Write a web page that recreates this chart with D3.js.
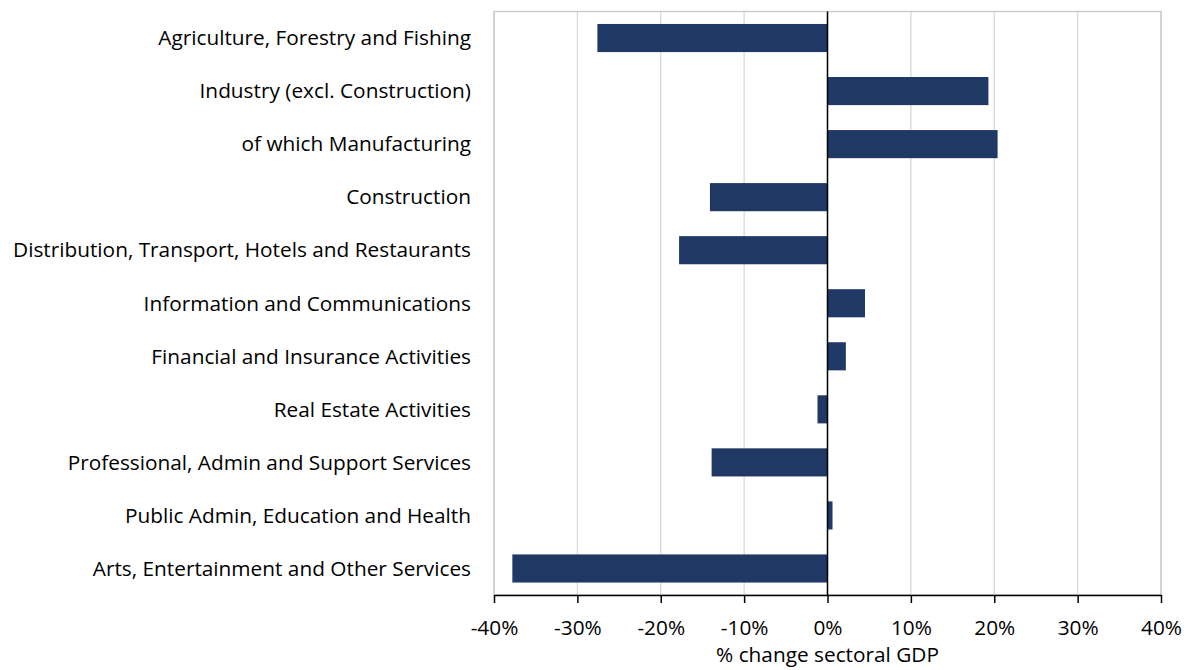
<!DOCTYPE html>
<html><head><meta charset="utf-8">
<script src="https://cdn.jsdelivr.net/npm/d3@7"></script>
<style>body{margin:0;background:#fff}svg text{font-family:"Open Sans", sans-serif;fill:#000}</style>
</head><body><svg id="c" width="1189" height="670"></svg>
<script>
const categories = ["Agriculture, Forestry and Fishing","Industry (excl. Construction)","of which Manufacturing","Construction","Distribution, Transport, Hotels and Restaurants","Information and Communications","Financial and Insurance Activities","Real Estate Activities","Professional, Admin and Support Services","Public Admin, Education and Health","Arts, Entertainment and Other Services"];
const values = [-27.6, 19.3, 20.4, -14.1, -17.8, 4.5, 2.2, -1.2, -13.9, 0.6, -37.8];
const tickValues = [-40,-30,-20,-10,0,10,20,30,40];
const axisTitle = "% change sectoral GDP";

const svg = d3.select("#c");
const m = {l:494, r:1161, t:11.5, b:595};
const FS = 20.8;
const x = d3.scaleLinear().domain([-40,40]).range([m.l, m.r]);
const y = d3.scaleBand().domain(categories).range([m.t, m.b]).paddingInner(0.47).paddingOuter(0.235);

// grid
svg.append("g").selectAll("line").data(tickValues).join("line")
  .attr("x1", d=>x(d)).attr("x2", d=>x(d)).attr("y1", m.t).attr("y2", m.b)
  .attr("stroke", "#d9d9d9").attr("stroke-width", 1.3);
// border
svg.append("rect").attr("x", m.l).attr("y", m.t).attr("width", m.r-m.l).attr("height", m.b-m.t)
  .attr("fill","none").attr("stroke","#c8c8c8").attr("stroke-width",1.3);

// bars
svg.append("g").selectAll("rect").data(values).join("rect")
  .attr("x", d=>x(Math.min(0,d))).attr("width", d=>Math.abs(x(d)-x(0)))
  .attr("y", (d,i)=>y(categories[i])).attr("height", y.bandwidth())
  .attr("fill", "#203864");

// zero line
svg.append("line").attr("x1", x(0)).attr("x2", x(0)).attr("y1", m.t).attr("y2", m.b)
  .attr("stroke","#000").attr("stroke-width",1.5);

// x axis
const xa = svg.append("g").attr("transform", `translate(0,${m.b})`)
  .call(d3.axisBottom(x).tickValues(tickValues).tickFormat(d=>d+"%").tickSize(8).tickSizeOuter(0));
xa.select(".domain").attr("stroke","#000").attr("stroke-width",1.5);
xa.selectAll(".tick line").attr("stroke","#000").attr("stroke-width",1.5);
xa.selectAll("text").attr("font-size", FS).attr("font-family","'Open Sans', sans-serif").attr("dy", null).attr("y", 40).attr("fill","#000");

svg.append("text").attr("x", x(0)).attr("y", 662).attr("text-anchor","middle").attr("font-size",FS).text(axisTitle);

// category labels
svg.append("g").selectAll("text").data(categories).join("text")
  .attr("x", 471).attr("y", d=>y(d)+y.bandwidth()/2).attr("dy","0.35em")
  .attr("text-anchor","end").attr("font-size",FS).text(d=>d);
</script></body></html>
